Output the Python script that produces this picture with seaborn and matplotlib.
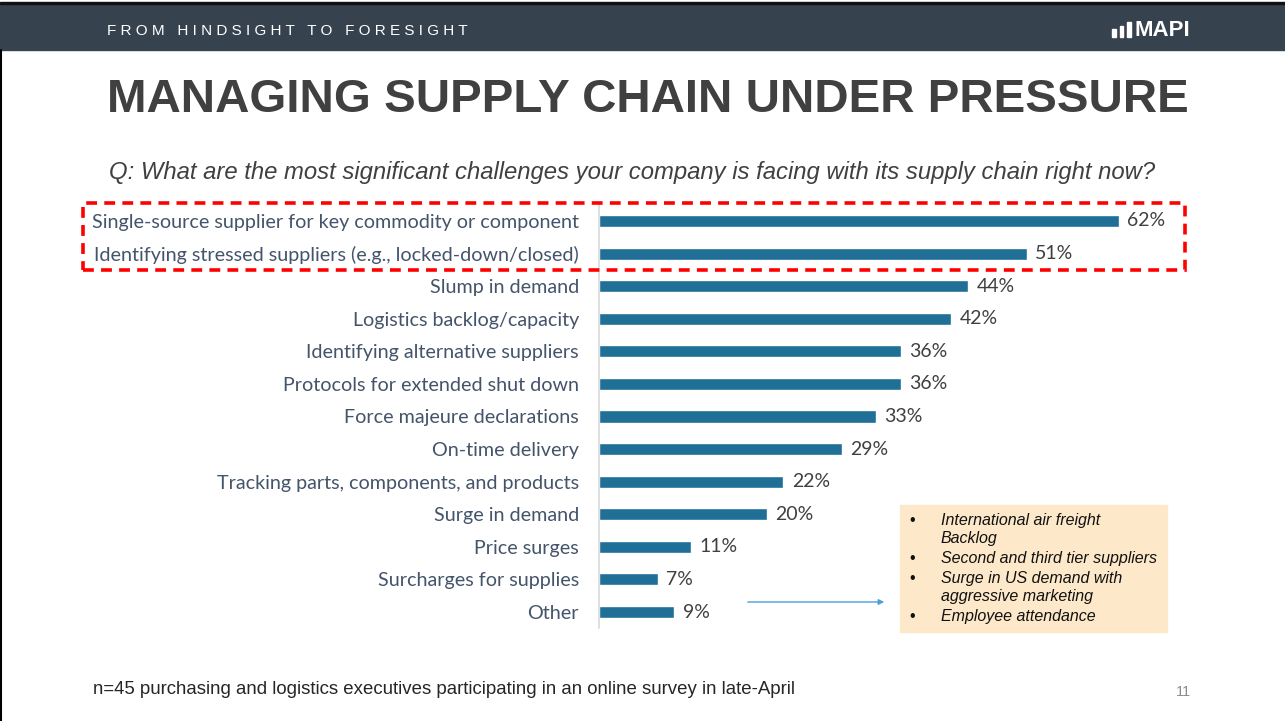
import matplotlib
matplotlib.use("Agg")
import matplotlib.pyplot as plt
import matplotlib.patches as mpatches
import matplotlib.transforms as mtransforms
import pandas as pd
import seaborn as sns

challenges = [
    "Single-source supplier for key commodity or component",
    "Identifying stressed suppliers (e.g., locked-down/closed)",
    "Slump in demand",
    "Logistics backlog/capacity",
    "Identifying alternative suppliers",
    "Protocols for extended shut down",
    "Force majeure declarations",
    "On-time delivery",
    "Tracking parts, components, and products",
    "Surge in demand",
    "Price surges",
    "Surcharges for supplies",
    "Other",
]
pct = [62, 51, 44, 42, 36, 36, 33, 29, 22, 20, 11, 7, 9]
other_lines = [
    ("\u2022", "International air freight"),
    ("", "Backlog"),
    ("\u2022", "Second and third tier suppliers"),
    ("\u2022", "Surge in US demand with"),
    ("", "aggressive marketing"),
    ("\u2022", "Employee attendance"),
]

df = pd.DataFrame({"challenge": challenges, "pct": pct})

W, H = 1285, 721
sns.set_style("white")
plt.rcParams["font.family"] = ["Liberation Sans", "DejaVu Sans"]

fig = plt.figure(figsize=(W / 100, H / 100), dpi=100)

def fx(px):
    return px / W

def fy(py):
    return 1 - py / H

# header band
fig.patches.append(mpatches.Rectangle((0, fy(50)), 1, fy(4) - fy(50), transform=fig.transFigure,
                                      color="#37424f", zorder=0))
fig.patches.append(mpatches.Rectangle((0, fy(4)), 1, fy(2) - fy(4), transform=fig.transFigure,
                                      color="#111111", zorder=0))
fig.add_artist(plt.Line2D([fx(1), fx(1)], [0, fy(50)], color="black", lw=1.5))
fig.text(fx(107), fy(31), " ".join("FROM HINDSIGHT TO FORESIGHT"), color="white",
         fontsize=11, va="center", ha="left")
# logo
for bx, bw, bh in [(1112, 4, 8), (1120, 3, 11), (1127, 4, 15)]:
    fig.patches.append(mpatches.Rectangle((fx(bx), fy(37)), fx(bw), bh / H,
                                          transform=fig.transFigure, color="white"))
fig.text(fx(1134), fy(30), "MAPI", color="white", fontsize=16, fontweight="heavy",
         va="center", ha="left")

# title and question
fig.text(fx(107), fy(100), "MANAGING SUPPLY CHAIN UNDER PRESSURE", color="#404040",
         fontsize=34.2, fontweight="bold", va="center", ha="left")
fig.text(fx(109), fy(172),
         "Q: What are the most significant challenges your company is facing with its supply chain right now?",
         color="#404040", fontsize=17.2, style="italic", va="center", ha="left")

# chart
ax = fig.add_axes([fx(599), fy(628.3), fx(587), fy(204.7) - fy(628.3)])
sns.barplot(data=df, x="pct", y="challenge", color="#1f6f96", width=0.37,
            saturation=1, ax=ax)
ax.set_xlim(0, 70)
ax.set_ylim(12.5, -0.5)
ax.set_xlabel("")
ax.set_ylabel("")
ax.set_xticks([])
for s in ["top", "right", "bottom"]:
    ax.spines[s].set_visible(False)
ax.spines["left"].set_color("#d9d9d9")
ax.spines["left"].set_linewidth(1.2)
ax.tick_params(axis="y", left=False, pad=11, labelsize=14.2, labelcolor="#44546a")
for lab in ax.get_yticklabels():
    lab.set_family(["Lato", "DejaVu Sans"])
vals = ax.bar_label(ax.containers[0], labels=[f"{v}%" for v in pct], padding=6,
                    fontsize=14, color="#404040", family=["Lato", "DejaVu Sans"])
shift = mtransforms.ScaledTranslation(0, -2 / 100, fig.dpi_scale_trans)
for t in vals:
    t.set_transform(t.get_transform() + shift)
ax.patch.set_alpha(0)

# red dashed highlight
fig.patches.append(mpatches.Rectangle((fx(83), fy(270)), fx(1185 - 83), fy(203) - fy(270),
                                      transform=fig.transFigure, fill=False,
                                      edgecolor="#ff0000", lw=2.6, ls=(0, (3, 2)), zorder=5))

# annotation box for "Other"
fig.patches.append(mpatches.Rectangle((fx(900), fy(632)), fx(267), fy(505) - fy(632),
                                      transform=fig.transFigure, color="#fde9c9", zorder=1))
for y, (bullet, line) in zip([521, 539, 558, 578, 597, 616], other_lines):
    if bullet:
        fig.text(fx(909), fy(y), bullet, fontsize=11.5, color="#111111", va="center", ha="left")
    fig.text(fx(941), fy(y), line, fontsize=11.5, style="italic", color="#111111",
             va="center", ha="left")
fig.add_artist(mpatches.FancyArrowPatch((fx(745), fy(602)), (fx(887), fy(602)),
                                        transform=fig.transFigure, arrowstyle="-|>",
                                        mutation_scale=8, color="#4a9fd8", lw=1))

# footer
fig.text(fx(93), fy(690), "n=45 purchasing and logistics executives participating in an online survey in late-April",
         fontsize=13.4, color="#262626", va="center", ha="left")
fig.text(fx(1183), fy(692), "11", fontsize=10.5, color="#8c8c8c", va="center", ha="center")

fig.savefig("out.png", dpi=100)
